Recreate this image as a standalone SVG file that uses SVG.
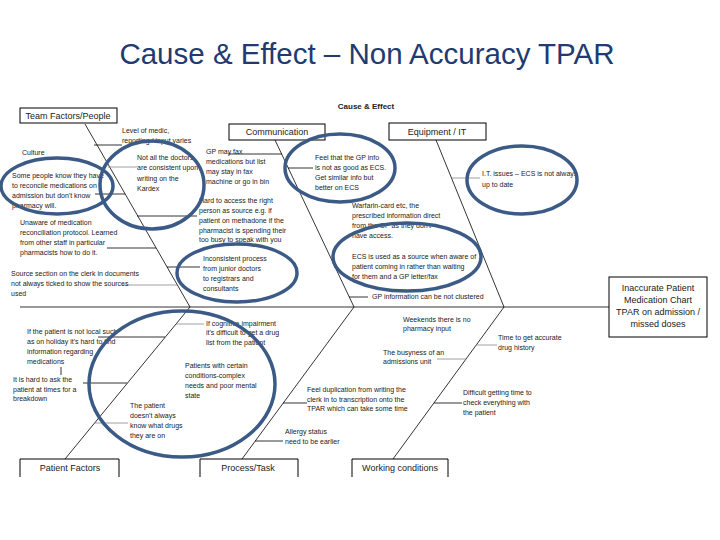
<svg xmlns="http://www.w3.org/2000/svg" width="720" height="540" viewBox="0 0 720 540">
<style>
.t{font-family:"Liberation Sans",Arial,sans-serif;font-size:7px;fill:#222}
.c{font-family:"Liberation Sans",Arial,sans-serif;font-size:9px;fill:#222;text-anchor:middle}
.b{fill:#fff;stroke:#000;stroke-width:1}
.o{fill:none;stroke:#000;stroke-width:1}
.e{fill:none;stroke:#3B5B86;stroke-width:3.5}
.l{stroke:#000;stroke-width:0.8;fill:none}
.g{stroke:#888;stroke-width:0.8;fill:none}
</style>
<rect width="720" height="540" fill="#fff"/>
<text x="367" y="64" text-anchor="middle" font-family="Liberation Sans,Arial,sans-serif" font-size="29.5" fill="#213A70">Cause &amp; Effect – Non Accuracy TPAR</text>
<text x="366" y="109" text-anchor="middle" font-family="Liberation Sans,Arial,sans-serif" font-size="8" font-weight="bold" fill="#222">Cause &amp; Effect</text>

<g id="connectors">
<line class="l" x1="20" y1="307" x2="609" y2="307"/>
<line class="l" x1="85" y1="124" x2="190" y2="307"/>
<line class="l" x1="275" y1="140" x2="354" y2="307"/>
<line class="l" x1="436" y1="140" x2="504" y2="307"/>
<line class="l" x1="65" y1="459" x2="190" y2="307"/>
<line class="l" x1="242" y1="459" x2="354" y2="307"/>
<line class="l" x1="393" y1="459" x2="504" y2="307"/>
<line class="l" x1="94" y1="145" x2="122" y2="145"/>
<line class="g" x1="108" y1="167" x2="137" y2="167"/>
<line class="l" x1="95" y1="194" x2="125" y2="194"/>
<line class="l" x1="137" y1="216" x2="197" y2="216"/>
<line class="l" x1="107" y1="248" x2="156" y2="248"/>
<line class="l" x1="167" y1="267" x2="200" y2="267"/>
<line class="g" x1="122" y1="285" x2="177" y2="285"/>
<line class="l" x1="228" y1="154" x2="282" y2="154"/>
<line class="l" x1="288" y1="168" x2="313" y2="168"/>
<line class="g" x1="452" y1="178" x2="480" y2="178"/>
<line class="l" x1="349" y1="297" x2="368" y2="297"/>
<line class="l" x1="98" y1="337" x2="165" y2="337"/>
<line class="l" x1="61" y1="367" x2="61" y2="375"/>
<line class="l" x1="83" y1="383" x2="127" y2="383"/>
<line class="g" x1="94" y1="423" x2="128" y2="423"/>
<line class="g" x1="176" y1="324" x2="204" y2="324"/>
<line class="l" x1="283" y1="403" x2="307" y2="403"/>
<line class="l" x1="255" y1="441" x2="283" y2="441"/>
<line class="g" x1="437" y1="359" x2="466" y2="359"/>
<line class="g" x1="476" y1="345" x2="497" y2="345"/>
<line class="l" x1="434" y1="403" x2="462" y2="403"/>
</g>

<g id="team-factors"><rect class="b" x="20" y="108" width="97" height="15"/><text class="c" x="68" y="119">Team Factors/People</text></g>
<g id="communication"><rect class="b" x="229" y="124" width="96" height="16"/><text class="c" x="277" y="135">Communication</text></g>
<g id="equipment"><rect class="b" x="389" y="123" width="97" height="17"/><text class="c" x="437" y="135">Equipment / IT</text></g>
<g id="patient-factors"><path class="o" d="M20 477V459H119V477"/><text class="c" x="70" y="471">Patient Factors</text></g>
<g id="process-task"><path class="o" d="M200 477V459H298V477"/><text class="c" x="248" y="471">Process/Task</text></g>
<g id="working-conditions"><path class="o" d="M352 477V459H448V477"/><text class="c" x="400" y="471">Working conditions</text></g>
<g id="effect"><rect class="b" x="609" y="277" width="98" height="60"/>
<text class="c" x="658" y="291" font-size="9.5">Inaccurate Patient</text>
<text class="c" x="658" y="303" font-size="9.5">Medication Chart</text>
<text class="c" x="658" y="315" font-size="9.5">TPAR on admission /</text>
<text class="c" x="658" y="327" font-size="9.5">missed doses</text></g>

<g id="cause-level"><text class="t" x="122" y="133">Level of medic,</text><text class="t" x="122" y="143">reporting / input varies</text></g>
<g id="cause-culture"><text class="t" x="22" y="155">Culture</text></g>
<g id="cause-some-people"><text class="t" x="12" y="178">Some people know they have</text><text class="t" x="12" y="188">to reconcile medications on</text><text class="t" x="12" y="198">admission but don't know</text><text class="t" x="12" y="208">pharmacy will.</text></g>
<g id="cause-unaware"><text class="t" x="20" y="225">Unaware of medication</text><text class="t" x="20" y="235">reconciliation protocol. Learned</text><text class="t" x="20" y="245">from other staff in particular</text><text class="t" x="20" y="255">pharmacists how to do it.</text></g>
<g id="cause-source"><text class="t" x="11" y="276">Source section on the clerk in documents</text><text class="t" x="11" y="286">not always ticked to show the sources</text><text class="t" x="11" y="296">used</text></g>
<g id="cause-not-all"><text class="t" x="137" y="160">Not all the doctors</text><text class="t" x="137" y="170">are consistent upon</text><text class="t" x="137" y="181">writing on the</text><text class="t" x="137" y="191">Kardex</text></g>
<g id="cause-gp-fax"><text class="t" x="206" y="154">GP may fax</text><text class="t" x="206" y="164">medications but list</text><text class="t" x="206" y="174">may stay in fax</text><text class="t" x="206" y="184">machine or go in bin</text></g>
<g id="cause-hard-access"><text class="t" x="199" y="203">Hard to access the right</text><text class="t" x="199" y="213">person as source e.g. if</text><text class="t" x="199" y="223">patient on methadone if the</text><text class="t" x="199" y="233">pharmacist is spending their</text><text class="t" x="199" y="242">too busy to speak with you</text></g>
<g id="cause-inconsistent"><text class="t" x="203" y="261">Inconsistent process</text><text class="t" x="203" y="271">from junior doctors</text><text class="t" x="203" y="281">to registrars and</text><text class="t" x="203" y="291">consultants</text></g>
<g id="cause-gp-info"><text class="t" x="315" y="160">Feel that the GP info</text><text class="t" x="315" y="170">is not as good as ECS.</text><text class="t" x="315" y="180">Get similar info but</text><text class="t" x="315" y="190">better on ECS</text></g>
<g id="cause-it"><text class="t" x="482" y="176">I.T. issues – ECS is not always</text><text class="t" x="482" y="187">up to date</text></g>
<g id="cause-warfarin"><text class="t" x="352" y="208">Warfarin-card etc, the</text><text class="t" x="352" y="218">prescribed information direct</text><text class="t" x="352" y="228">from the GP as they don't</text><text class="t" x="352" y="238">have access.</text></g>
<g id="cause-ecs"><text class="t" x="352" y="259">ECS is used as a source when aware of</text><text class="t" x="352" y="269">patient coming in rather than waiting</text><text class="t" x="352" y="279">for them and a GP letter/fax</text></g>
<g id="cause-gp-clustered"><text class="t" x="372" y="299">GP information can be not clustered</text></g>
<g id="cause-not-local"><text class="t" x="27" y="334">If the patient is not local such</text><text class="t" x="27" y="344">as on holiday it's hard to find</text><text class="t" x="27" y="354">information regarding</text><text class="t" x="27" y="364">medications</text></g>
<g id="cause-hard-ask"><text class="t" x="13" y="382">It is hard to ask the</text><text class="t" x="13" y="392">patient at times for a</text><text class="t" x="13" y="401">breakdown</text></g>
<g id="cause-patient-know"><text class="t" x="130" y="408">The patient</text><text class="t" x="130" y="418">doesn't always</text><text class="t" x="130" y="428">know what drugs</text><text class="t" x="130" y="438">they are on</text></g>
<g id="cause-cognitive"><text class="t" x="206" y="326">If cognitive impairment</text><text class="t" x="206" y="335">it's difficult to get a drug</text><text class="t" x="206" y="345">list from the patient</text></g>
<g id="cause-conditions"><text class="t" x="185" y="368">Patients with certain</text><text class="t" x="185" y="378">conditions-complex</text><text class="t" x="185" y="388">needs and poor mental</text><text class="t" x="185" y="398">state</text></g>
<g id="cause-duplication"><text class="t" x="307" y="392">Feel duplication from writing the</text><text class="t" x="307" y="402">clerk in to transcription onto the</text><text class="t" x="307" y="411">TPAR which can take some time</text></g>
<g id="cause-allergy"><text class="t" x="285" y="434">Allergy status</text><text class="t" x="285" y="444">need to be earlier</text></g>
<g id="cause-weekends"><text class="t" x="403" y="322">Weekends there is no</text><text class="t" x="403" y="331">pharmacy input</text></g>
<g id="cause-busyness"><text class="t" x="383" y="355">The busyness of an</text><text class="t" x="383" y="364">admissions unit</text></g>
<g id="cause-time"><text class="t" x="498" y="340">Time to get accurate</text><text class="t" x="498" y="350">drug history</text></g>
<g id="cause-difficult"><text class="t" x="463" y="395">Difficult getting time to</text><text class="t" x="463" y="405">check everything with</text><text class="t" x="463" y="415">the patient</text></g>

<g id="highlights">
<ellipse class="e" cx="57" cy="186" rx="56" ry="28"/>
<ellipse class="e" cx="152" cy="185" rx="52" ry="44"/>
<ellipse class="e" cx="340" cy="168" rx="55" ry="34"/>
<ellipse class="e" cx="522" cy="180" rx="55" ry="34"/>
<ellipse class="e" cx="407" cy="257" rx="74" ry="34"/>
<ellipse class="e" cx="237" cy="273" rx="60" ry="29"/>
<ellipse class="e" cx="182" cy="384" rx="93" ry="73"/>
</g>
</svg>
